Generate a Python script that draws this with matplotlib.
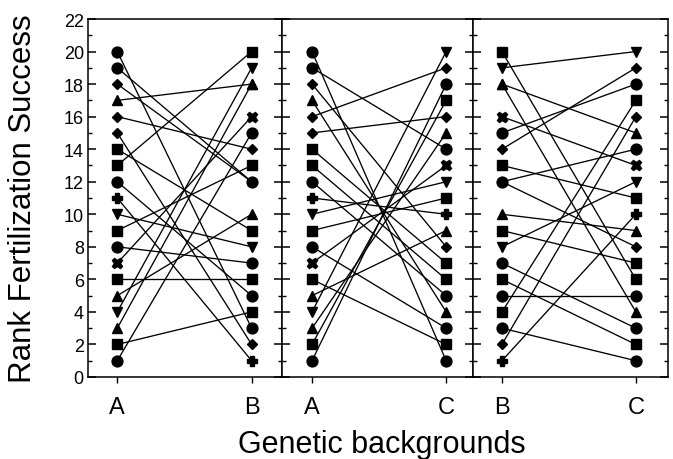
import matplotlib
matplotlib.use("Agg")
import matplotlib.pyplot as plt

plt.rcParams["font.family"] = ["Liberation Sans", "DejaVu Sans"]

# one entry per male, listed by rank in background A (20 -> 1)
markers = ["o", "o", "D", "^", "D", "D", "s", "s", "o", "P",
           "v", "s", "o", "X", "s", "^", "v", "^", "s", "o"]
rank_A = [20, 19, 18, 17, 16, 15, 14, 13, 12, 11, 10, 9, 8, 7, 6, 5, 4, 3, 2, 1]
rank_B = [3, 12, 12, 18, 14, 2, 9, 20, 5, 1, 8, 13, 7, 16, 6, 10, 19, 18, 4, 15]
rank_C = [1, 14, 8, 4, 19, 16, 7, 6, 5, 10, 12, 11, 3, 13, 2, 9, 20, 15, 17, 18]

panels = [("A", "B", rank_A, rank_B),
          ("A", "C", rank_A, rank_C),
          ("B", "C", rank_B, rank_C)]

msize = {"o": 7.8, "s": 6.8, "D": 5.5, "^": 7.8, "v": 7.8, "X": 7.8, "P": 7}

fig = plt.figure(figsize=(6.73, 4.60), dpi=100)
W, H = 673, 460
edges = [(88, 282, (-0.218, 1.226)),
         (282, 473, (-0.224, 1.20)),
         (473, 668, (-0.216, 1.24))]
top, bottom = 20, 378

for i, ((lab1, lab2, left, right), (x0, x1, xl)) in enumerate(zip(panels, edges)):
    ax = fig.add_axes([x0 / W, (H - bottom) / H, (x1 - x0) / W, (bottom - top) / H])
    for k in range(len(markers) - 1, -1, -1):
        ax.plot([0, 1], [left[k], right[k]], color="black", lw=0.95,
                marker=markers[k], ms=msize[markers[k]], mfc="black", mec="black",
                solid_capstyle="butt")
    ax.set_xlim(*xl)
    ax.set_ylim(0, 22)
    ax.set_xticks([0, 1])
    ax.set_xticklabels([lab1, lab2], fontsize=17)
    ax.set_yticks(range(0, 23, 2))
    ax.set_yticks(range(1, 22, 2), minor=True)
    ax.tick_params(axis="x", direction="out", length=4, width=1, pad=10)
    ax.tick_params(axis="y", which="major", length=6, width=1.1, right=True)
    ax.tick_params(axis="y", which="minor", length=3, width=1, right=True)
    if i == 0:
        ax.tick_params(axis="y", which="both", left=True, direction="out")
        ax.tick_params(axis="y", which="both", right=True, direction="in")
        ax.tick_params(axis="y", which="major", labelsize=13, pad=3)
    else:
        ax.tick_params(axis="y", which="both", direction="in", labelleft=False)
    for s in ax.spines.values():
        s.set_linewidth(1.1)

fig.text(0.034, (H - (top + bottom) / 2) / H, "Rank Fertilization Success",
         rotation=90, ha="center", va="center", fontsize=22.5)
fig.text(382 / W, 0.032, "Genetic backgrounds", ha="center", va="center", fontsize=22)

fig.savefig("out.png", dpi=100)
